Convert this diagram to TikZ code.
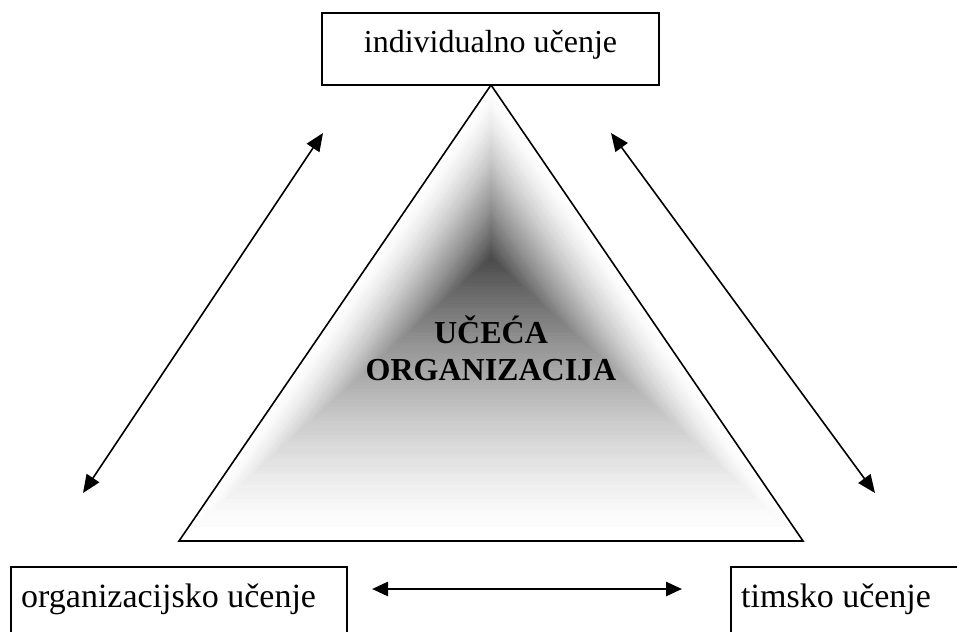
\documentclass[tikz,border=0pt]{standalone}
\usepackage{fontspec}
\setmainfont{Liberation Serif}
\usetikzlibrary{arrows.meta,calc}
\begin{document}
\begin{tikzpicture}[x=1pt,y=-1pt,
  boxnode/.style={draw, line width=1.6pt, inner sep=0pt, fill=white},
  toptext/.style={font=\fontsize{32}{38}\selectfont},
  bottext/.style={font=\fontsize{34}{40}\selectfont, inner sep=0pt, anchor=base west},
  midtext/.style={font=\fontsize{32}{37}\selectfont\bfseries, inner sep=0pt, anchor=base},
  arr/.style={line width=1.6pt, {Triangle[length=18pt,width=15pt]}-{Triangle[length=18pt,width=15pt]}},
  harr/.style={line width=2.6pt, {Triangle[length=16pt,width=14pt]}-{Triangle[length=16pt,width=14pt]}},
]
\clip (0,0) rectangle (957,631);
\fill[white] (0,0) rectangle (957,631);

% triangle with centre gradient
\coordinate (A) at (491,85);
\coordinate (B) at (179,541);
\coordinate (C) at (803,541);
\coordinate (O) at (491,258);
\foreach \i in {0,...,79}{
  \pgfmathsetmacro{\s}{1-\i/80}
  \pgfmathtruncatemacro{\p}{72*(\i/80)^1.4}
  \fill[black!\p!white] ($(O)!\s!(A)$) -- ($(O)!\s!(B)$) -- ($(O)!\s!(C)$) -- cycle;
}
\draw[line width=1.6pt, line join=miter] (A) -- (B) -- (C) -- cycle;

\node[midtext] (t1) at (491,343) {UČEĆA};
\node[midtext] (t2) at (491,380) {ORGANIZACIJA};

% boxes
\node[boxnode, toptext, minimum width=337pt, minimum height=72pt,
      text height=22pt, text depth=14pt] (ind) at (490.5,49) {individualno učenje};
\node[boxnode, anchor=north west, minimum width=336pt, minimum height=100pt] (org) at (10,566) {};
\node[boxnode, anchor=north west, minimum width=336pt, minimum height=100pt] (tim) at (730,566) {};
\node[bottext] (orgt) at (21,607) {organizacijsko učenje};
\node[bottext] (timt) at (741,607) {timsko učenje};

% arrows
\coordinate (l1) at (83,493);
\coordinate (l2) at (323,133);
\coordinate (r1) at (611,133);
\coordinate (r2) at (875,493);
\coordinate (h1) at (372,589);
\coordinate (h2) at (682,589);
\draw[arr] (l1) -- (l2);
\draw[arr] (r1) -- (r2);
\draw[harr] (h1) -- (h2);
\end{tikzpicture}
\end{document}
